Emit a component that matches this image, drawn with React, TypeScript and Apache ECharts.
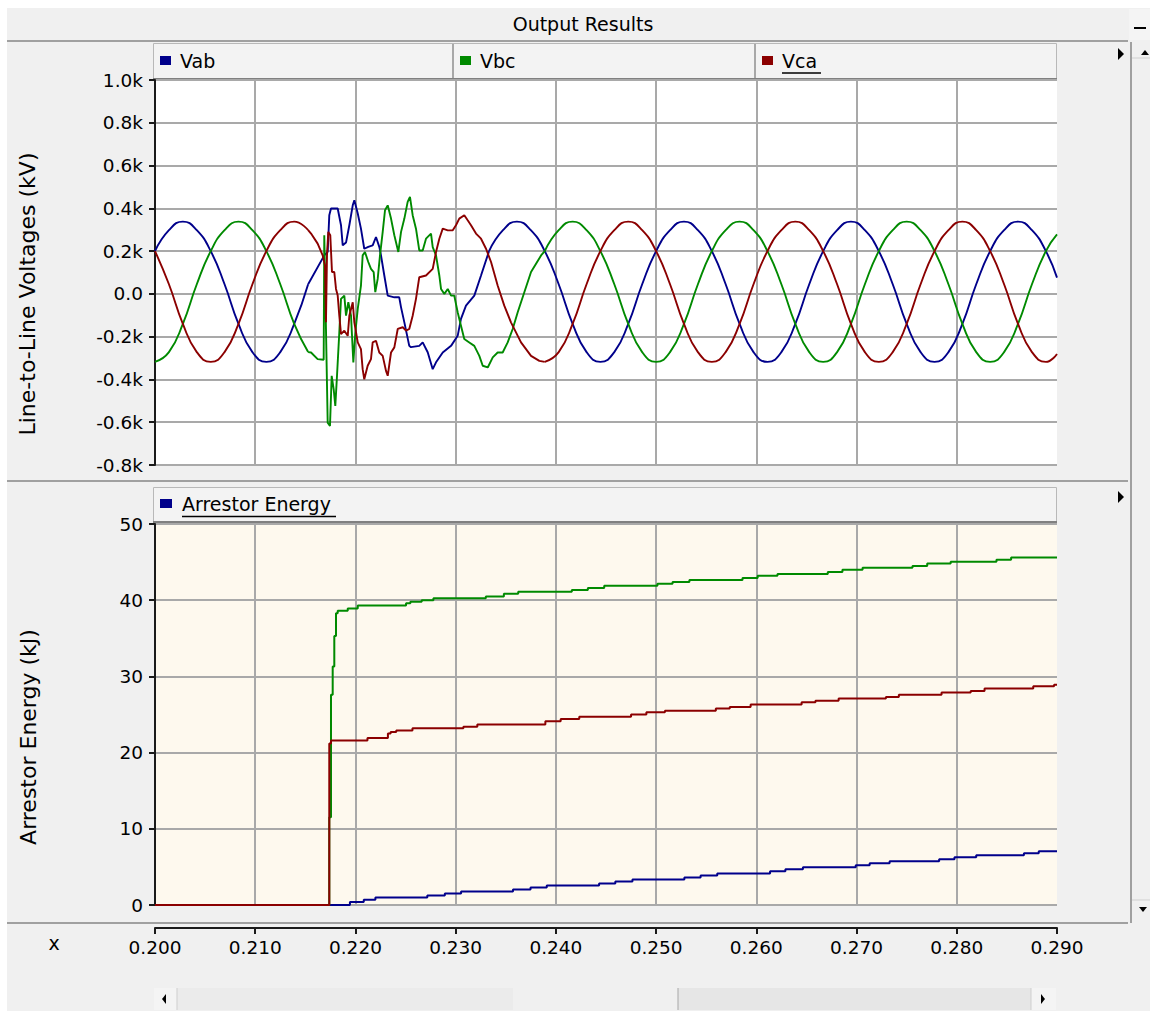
import React, { useEffect, useRef } from 'react';
import * as echarts from 'echarts';

const FONT = '"DejaVu Sans", sans-serif';

// ---- Line-to-line voltages (kV) : [time s, value kV] ----
// steady state before the fault
const vabPre: [number, number][] = [
  [0.2, 200], [0.20139, 298], [0.20278, 338], [0.20417, 298], [0.20556, 200], [0.20694, 45],
  [0.20833, -140], [0.20972, -272], [0.21111, -318], [0.2125, -272], [0.21389, -140], [0.21528, 45],
];
const vbcPre: [number, number][] = [
  [0.2, -318], [0.20139, -272], [0.20278, -140], [0.20417, 45], [0.20556, 200], [0.20694, 298],
  [0.20833, 338], [0.20972, 298], [0.21111, 200], [0.2125, 45], [0.21389, -140], [0.21528, -272],
];
const vcaPre: [number, number][] = [
  [0.2, 200], [0.20139, 45], [0.20278, -140], [0.20417, -272], [0.20556, -318], [0.20694, -272],
  [0.20833, -140], [0.20972, 45], [0.21111, 200], [0.2125, 298], [0.21389, 338], [0.21528, 298],
];

// transient during the fault / arrester operation
const vabFault: [number, number][] = [
  [0.21528, 45], [0.21689, 180], [0.21723, 197], [0.21739, 368], [0.21756, 399], [0.21823, 399],
  [0.21856, 321], [0.21873, 227], [0.21906, 240], [0.21939, 321], [0.21973, 414], [0.21989, 438],
  [0.22023, 376], [0.22055, 305], [0.22088, 211], [0.22128, 220], [0.22172, 227], [0.22205, 266],
  [0.22238, 220], [0.22255, 180], [0.22288, 86], [0.22322, -8], [0.22388, -16], [0.22437, -16],
  [0.22455, -63], [0.22488, -133], [0.22537, -243], [0.22554, -249], [0.22637, -243], [0.22671, -227],
  [0.22721, -273], [0.22771, -352], [0.22804, -320], [0.22871, -274], [0.22954, -243], [0.2302, -196],
  [0.23053, -117], [0.23103, -55], [0.23186, -8], [0.23253, 86], [0.23333, 200],
];
const vbcFault: [number, number][] = [
  [0.21528, -272], [0.21557, -274], [0.21623, -305], [0.21683, -308], [0.21689, 274], [0.21706, -164],
  [0.21723, -602], [0.21746, -618], [0.21763, -383], [0.21783, -446], [0.21799, -524], [0.21816, -383],
  [0.21839, -180], [0.21856, -23], [0.21889, -8], [0.21906, -102], [0.21929, -39], [0.21956, -102],
  [0.21979, -321], [0.21999, -180], [0.22023, -70], [0.22055, 39], [0.22072, 180], [0.22095, 196],
  [0.22128, 149], [0.22155, 117], [0.22182, 102], [0.22198, 8], [0.22222, 70], [0.22245, 180],
  [0.22272, 290], [0.22295, 391], [0.22322, 414], [0.22355, 352], [0.22388, 274], [0.22428, 196],
  [0.22455, 290], [0.22488, 352], [0.22521, 430], [0.22544, 454], [0.22571, 368], [0.22604, 305],
  [0.22637, 203], [0.22671, 203], [0.22704, 258], [0.22754, 282], [0.22771, 219], [0.22804, 180],
  [0.22837, 86], [0.22854, 23], [0.22887, 0], [0.22921, 23], [0.22954, -8], [0.22986, -8],
  [0.2302, -86], [0.23053, -149], [0.23086, -211], [0.23136, -227], [0.23186, -243], [0.23236, -290],
  [0.2327, -336], [0.2332, -344], [0.2337, -297], [0.23419, -274], [0.23469, -274], [0.23519, -227],
  [0.23569, -164], [0.23619, -86], [0.23685, 8], [0.23752, 102], [0.23852, 180], [0.23889, 200],
];
const vcaFault: [number, number][] = [
  [0.21528, 298], [0.21557, 282], [0.21623, 235], [0.21673, 180], [0.21696, 133], [0.21706, -133],
  [0.21716, 180], [0.21729, 290], [0.21749, 274], [0.21766, 102], [0.21789, 102], [0.21806, 23],
  [0.21823, -8], [0.21839, -102], [0.21856, -188], [0.21889, -172], [0.21923, -196], [0.21939, -102],
  [0.21973, -39], [0.21989, -133], [0.22023, -227], [0.22055, -258], [0.22072, -352], [0.22088, -399],
  [0.22122, -336], [0.22155, -305], [0.22172, -227], [0.22205, -219], [0.22238, -274], [0.22272, -290],
  [0.22305, -360], [0.22322, -383], [0.22355, -274], [0.22388, -250], [0.22422, -164], [0.22472, -156],
  [0.22505, -172], [0.22537, -164], [0.22571, -102], [0.22604, -23], [0.22637, 78], [0.22704, 86],
  [0.22771, 117], [0.22804, 196], [0.22837, 258], [0.22871, 305], [0.22921, 297], [0.22971, 297],
  [0.23003, 321], [0.23036, 352], [0.23086, 368], [0.2312, 344], [0.23153, 321], [0.23203, 282],
  [0.23253, 258], [0.23303, 211], [0.23353, 149], [0.23419, 39], [0.23485, -55], [0.23552, -133],
  [0.23652, -227], [0.23752, -290], [0.23835, -313], [0.23889, -318],
];

// steady state after the fault
const vabPost: [number, number][] = [
  [0.23333, 200], [0.23472, 298], [0.23611, 338], [0.2375, 298], [0.23889, 200], [0.24028, 45],
  [0.24167, -140], [0.24306, -272], [0.24444, -318], [0.24583, -272], [0.24722, -140], [0.24861, 45],
  [0.25, 200], [0.25139, 298], [0.25278, 338], [0.25417, 298], [0.25556, 200], [0.25694, 45],
  [0.25833, -140], [0.25972, -272], [0.26111, -318], [0.2625, -272], [0.26389, -140], [0.26528, 45],
  [0.26667, 200], [0.26806, 298], [0.26944, 338], [0.27083, 298], [0.27222, 200], [0.27361, 45],
  [0.275, -140], [0.27639, -272], [0.27778, -318], [0.27917, -272], [0.28056, -140], [0.28194, 45],
  [0.28333, 200], [0.28472, 298], [0.28611, 338], [0.2875, 298], [0.28889, 200], [0.29, 76],
];
const vbcPost: [number, number][] = [
  [0.23889, 200], [0.24028, 298], [0.24167, 338], [0.24306, 298], [0.24444, 200], [0.24583, 45],
  [0.24722, -140], [0.24861, -272], [0.25, -318], [0.25139, -272], [0.25278, -140], [0.25417, 45],
  [0.25556, 200], [0.25694, 298], [0.25833, 338], [0.25972, 298], [0.26111, 200], [0.2625, 45],
  [0.26389, -140], [0.26528, -272], [0.26667, -318], [0.26806, -272], [0.26944, -140], [0.27083, 45],
  [0.27222, 200], [0.27361, 298], [0.275, 338], [0.27639, 298], [0.27778, 200], [0.27917, 45],
  [0.28056, -140], [0.28194, -272], [0.28333, -318], [0.28472, -272], [0.28611, -140], [0.2875, 45],
  [0.28889, 200], [0.29, 278],
];
const vcaPost: [number, number][] = [
  [0.23889, -318], [0.24028, -272], [0.24167, -140], [0.24306, 45], [0.24444, 200], [0.24583, 298],
  [0.24722, 338], [0.24861, 298], [0.25, 200], [0.25139, 45], [0.25278, -140], [0.25417, -272],
  [0.25556, -318], [0.25694, -272], [0.25833, -140], [0.25972, 45], [0.26111, 200], [0.2625, 298],
  [0.26389, 338], [0.26528, 298], [0.26667, 200], [0.26806, 45], [0.26944, -140], [0.27083, -272],
  [0.27222, -318], [0.27361, -272], [0.275, -140], [0.27639, 45], [0.27778, 200], [0.27917, 298],
  [0.28056, 338], [0.28194, 298], [0.28333, 200], [0.28472, 45], [0.28611, -140], [0.2875, -272],
  [0.28889, -318], [0.29, -281],
];

// ---- Arrestor energy (kJ) : [time s, value kJ], sample-and-hold ----
const energyBlue: [number, number][] = [
  [0.2, 0], [0.21945, 0.4], [0.22083, 0.7], [0.22199, 1.0], [0.22717, 1.26], [0.22892, 1.52],
  [0.23054, 1.78], [0.23572, 2.04], [0.23747, 2.3], [0.23909, 2.57], [0.24431, 2.83], [0.24593, 3.09],
  [0.24764, 3.35], [0.25282, 3.6], [0.25444, 3.87], [0.2561, 4.13], [0.26137, 4.43], [0.2629, 4.7],
  [0.26465, 4.96], [0.26992, 5.22], [0.27131, 5.48], [0.2733, 5.74], [0.27824, 6.0], [0.27977, 6.26],
  [0.28194, 6.52], [0.2867, 6.78], [0.28818, 7.04], [0.29, 7.04],
];
const energyGreen: [number, number][] = [
  [0.2, 0], [0.21739, 11.5], [0.21756, 27.6], [0.21773, 31.3], [0.21789, 35.3], [0.21806, 38.3],
  [0.21823, 38.6], [0.21923, 38.9], [0.22023, 39.3], [0.22505, 39.6], [0.22548, 39.8], [0.22661, 40.0],
  [0.22778, 40.25], [0.23301, 40.5], [0.23481, 40.85], [0.23624, 41.1], [0.24159, 41.35], [0.24319, 41.6],
  [0.24482, 41.9], [0.25013, 42.15], [0.25164, 42.4], [0.25332, 42.65], [0.25862, 42.9], [0.26013, 43.2],
  [0.26211, 43.45], [0.26713, 43.7], [0.26859, 44.0], [0.2706, 44.25], [0.27558, 44.5], [0.27705, 44.8],
  [0.27939, 45.05], [0.28396, 45.3], [0.28542, 45.6], [0.29, 45.6],
];
const energyRed: [number, number][] = [
  [0.2, 0], [0.21739, 21.2], [0.21756, 21.6], [0.2212, 21.9], [0.22324, 22.5], [0.22351, 22.7],
  [0.22407, 22.9], [0.22569, 23.2], [0.23077, 23.4], [0.23216, 23.7], [0.23895, 24.1], [0.24048, 24.4],
  [0.24233, 24.7], [0.2475, 25.0], [0.24903, 25.3], [0.25088, 25.5], [0.25596, 25.8], [0.25735, 26.0],
  [0.25943, 26.3], [0.26452, 26.6], [0.2659, 26.8], [0.26821, 27.1], [0.27293, 27.3], [0.27422, 27.6],
  [0.27848, 27.9], [0.28139, 28.1], [0.28277, 28.4], [0.28763, 28.7], [0.28971, 28.9], [0.29, 28.9],
];

const voltageLegend = ['Vab', 'Vbc', 'Vca'];
const energyLegend = ['Arrestor Energy'];
const COLORS = { blue: '#00008B', green: '#008A00', red: '#8B0000' };

const GRID_COLOR = '#a9a9a9';
const AXIS_COLOR = '#1a1a1a';
const BG = '#f0f0f0';

function txt(text: string, x: number, y: number, size: number, align = 'left', extra: any = {}) {
  return {
    type: 'text', x, y, silent: true, ...extra,
    style: { text, fill: '#000', font: `${size}px ${FONT}`, align, verticalAlign: 'middle', textAlign: align, textVerticalAlign: 'middle' },
  };
}
function ln(x1: number, y1: number, x2: number, y2: number, stroke: string, lineWidth = 1) {
  return { type: 'line', silent: true, shape: { x1, y1, x2, y2 }, style: { stroke, lineWidth } };
}
function rc(x: number, y: number, width: number, height: number, fill: string, stroke?: string) {
  return { type: 'rect', silent: true, shape: { x, y, width, height }, style: { fill, stroke: stroke || 'none', lineWidth: 1 } };
}
function tri(points: number[][]) {
  return { type: 'polygon', silent: true, shape: { points }, style: { fill: '#000' } };
}

function buildOption() {
  const legendCells = [153, 453, 755];
  const legendColors = [COLORS.blue, COLORS.green, COLORS.red];
  const graphic: any[] = [
    rc(0, 0, 1150, 8, '#ffffff'),
    rc(0, 0, 7, 1011, '#ffffff'),
    // title bar
    ln(7, 41, 1128, 41, '#a0a0a0', 2),
    txt('Output Results', 583, 24, 19, 'center'),
    rc(1129, 9, 21, 31, '#f4f4f4'),
    ln(1134, 28, 1146, 28, '#000', 2),
    // top legend bar
    rc(153.5, 43.5, 903, 35, '#f3f3f3', '#b8b8b8'),
    ln(153, 79, 1057, 79, '#808080', 2),
    ln(453, 44, 453, 78, '#a8a8a8', 2),
    ln(755, 44, 755, 78, '#a8a8a8', 2),
    // bottom legend bar
    rc(153.5, 487.5, 903, 34, '#f3f3f3', '#b8b8b8'),
    ln(153, 522, 1057, 522, '#808080', 2),
    // separators
    ln(7, 481, 1128, 481, '#a0a0a0', 2),
    ln(7, 923, 1128, 923, '#a0a0a0', 2),
    // right arrows
    tri([[1118, 48], [1124, 54], [1118, 60]]),
    tri([[1118, 491], [1124, 497], [1118, 503]]),
    // vertical scrollbar
    ln(1131, 42, 1131, 923, '#a0a0a0', 2),
    ln(1132, 58, 1150, 58, '#d0d0d0', 1),
    tri([[1141, 55], [1145, 50], [1149, 55]]),
    ln(1132, 900, 1150, 900, '#d0d0d0', 1),
    tri([[1139, 907], [1147, 907], [1143, 912]]),
    // x label
    txt('x', 54, 943, 19, 'center'),
    // horizontal scrollbar
    rc(154, 988, 902, 22, '#e6e6e6'),
    rc(177, 988, 336, 22, '#ebebeb'),
    rc(513, 988, 165, 22, '#f0f0f0'),
    ln(678, 988, 678, 1010, '#a8a8a8', 1),
    rc(154, 988, 23, 22, '#f4f4f4'),
    rc(1031, 988, 25, 22, '#f4f4f4'),
    ln(177, 988, 177, 1010, '#cfcfcf', 1),
    ln(1031, 988, 1031, 1010, '#cfcfcf', 1),
    tri([[166, 994], [162, 999], [166, 1004]]),
    tri([[1041, 994], [1045, 999], [1041, 1004]]),
    // axis titles
    txt('Line-to-Line Voltages (kV)', 27, 294, 22, 'center', { rotation: Math.PI / 2 }),
    txt('Arrestor Energy (kJ)', 28, 737, 22, 'center', { rotation: Math.PI / 2 }),
  ];
  voltageLegend.forEach((name, i) => {
    const x0 = legendCells[i];
    graphic.push(rc(x0 + 7, 56, 11, 9, legendColors[i]));
    graphic.push(txt(name, x0 + 27, 61, 19, 'left'));
  });
  graphic.push(ln(782, 73, 821, 73, '#000', 1.5));
  energyLegend.forEach((name) => {
    graphic.push(rc(160, 499, 12, 9, COLORS.blue));
    graphic.push(txt(name, 182, 504, 19, 'left'));
  });
  graphic.push(ln(182, 516.5, 336, 516.5, '#000', 1.5));

  const xSplit = { show: true, showMaxLine: false, lineStyle: { color: GRID_COLOR, width: 2 } };
  const ySplit = { show: true, lineStyle: { color: GRID_COLOR, width: 2 } };
  const axisLabelStyle = { color: '#000', fontSize: 18.5, fontFamily: FONT };

  const lineSeries = (name: string, data: any, color: string, smooth: number | boolean) => ({
    name, type: 'line', xAxisIndex: 0, yAxisIndex: 0, data,
    symbol: 'none', showSymbol: false, smooth,
    lineStyle: { color, width: 1.9 }, itemStyle: { color }, silent: true,
  });
  const stepSeries = (name: string, data: any, color: string) => ({
    name, type: 'line', xAxisIndex: 1, yAxisIndex: 1, data, step: 'end',
    symbol: 'none', showSymbol: false,
    lineStyle: { color, width: 2 }, itemStyle: { color }, silent: true,
  });

  return {
    animation: false,
    backgroundColor: BG,
    textStyle: { fontFamily: FONT },
    grid: [
      { left: 155, top: 80, width: 902, height: 385, show: true, backgroundColor: '#ffffff', borderWidth: 0 },
      { left: 155, top: 524, width: 902, height: 381, show: true, backgroundColor: '#FEF9EE', borderWidth: 0 },
    ],
    xAxis: [
      {
        type: 'value', gridIndex: 0, min: 0.2, max: 0.29, interval: 0.01,
        axisLine: { show: false }, axisTick: { show: false }, axisLabel: { show: false }, splitLine: xSplit,
      },
      {
        type: 'value', gridIndex: 1, min: 0.2, max: 0.29, interval: 0.01, position: 'bottom', offset: 23,
        axisLine: { show: true, onZero: false, lineStyle: { color: AXIS_COLOR, width: 2 } },
        axisTick: { show: true, length: 6, lineStyle: { color: AXIS_COLOR, width: 2 } },
        axisLabel: { ...axisLabelStyle, margin: 10, formatter: (v: number) => v.toFixed(3) },
        splitLine: xSplit,
      },
    ],
    yAxis: [
      {
        type: 'value', gridIndex: 0, min: -800, max: 1000, interval: 200,
        axisLine: { show: true, onZero: false, lineStyle: { color: AXIS_COLOR, width: 2 } },
        axisTick: { show: true, length: 6, lineStyle: { color: AXIS_COLOR, width: 2 } },
        axisLabel: { ...axisLabelStyle, margin: 12, formatter: (v: number) => (v === 0 ? '0.0' : (v / 1000).toFixed(1) + 'k') },
        splitLine: ySplit,
      },
      {
        type: 'value', gridIndex: 1, min: 0, max: 50, interval: 10,
        axisLine: { show: true, onZero: false, lineStyle: { color: AXIS_COLOR, width: 2 } },
        axisTick: { show: true, length: 6, lineStyle: { color: AXIS_COLOR, width: 2 } },
        axisLabel: { ...axisLabelStyle, margin: 12 },
        splitLine: ySplit,
      },
    ],
    series: [
      lineSeries('Vab', vabPre, COLORS.blue, 0.5),
      lineSeries('Vab', vabFault, COLORS.blue, false),
      lineSeries('Vab', vabPost, COLORS.blue, 0.5),
      lineSeries('Vbc', vbcPre, COLORS.green, 0.5),
      lineSeries('Vbc', vbcFault, COLORS.green, false),
      lineSeries('Vbc', vbcPost, COLORS.green, 0.5),
      lineSeries('Vca', vcaPre, COLORS.red, 0.5),
      lineSeries('Vca', vcaFault, COLORS.red, false),
      lineSeries('Vca', vcaPost, COLORS.red, 0.5),
      stepSeries('Arrestor Energy', energyBlue, COLORS.blue),
      stepSeries('Arrestor Energy B', energyGreen, COLORS.green),
      stepSeries('Arrestor Energy C', energyRed, COLORS.red),
    ],
    graphic,
  };
}

export default function App() {
  const ref = useRef<HTMLDivElement>(null);
  useEffect(() => {
    if (!ref.current) return;
    const chart = echarts.init(ref.current, undefined, { renderer: 'svg', width: 1150, height: 1011 });
    chart.setOption(buildOption() as any);
    return () => chart.dispose();
  }, []);
  return <div ref={ref} style={{ position: 'fixed', left: 0, top: 0, width: 1150, height: 1011 }} />;
}
